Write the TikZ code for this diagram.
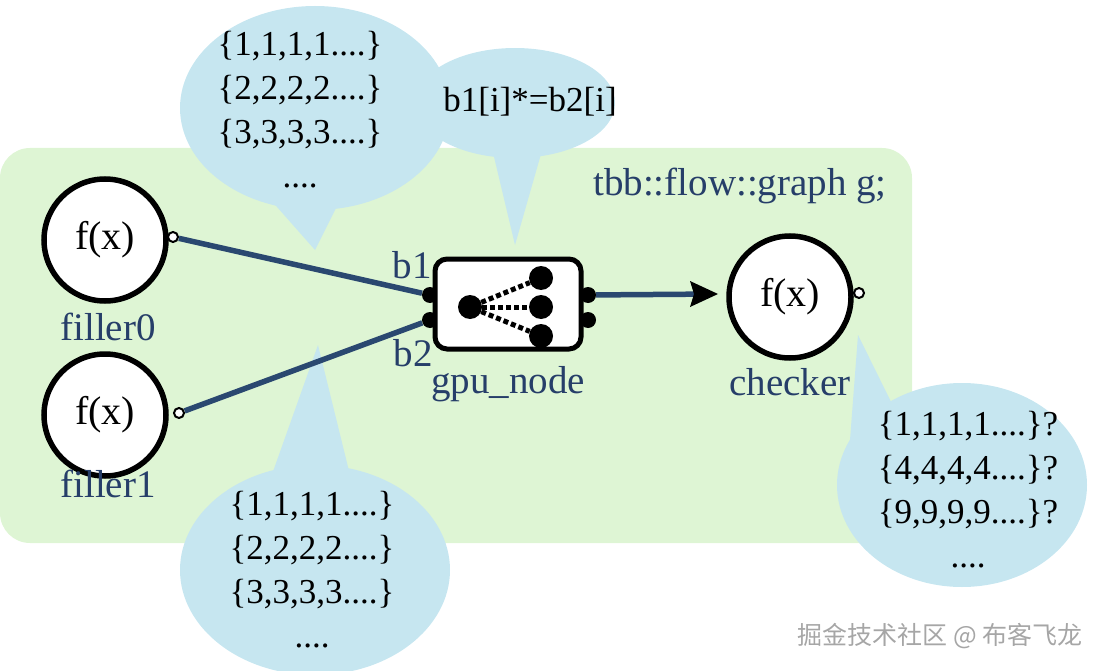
\documentclass[tikz,border=0pt]{standalone}
\usepackage{fontspec}
\setmainfont{Liberation Serif}
\newfontfamily\cjk{Noto Sans CJK SC}
\usetikzlibrary{arrows.meta}
\definecolor{bggreen}{RGB}{222,245,212}
\definecolor{callblue}{RGB}{198,230,240}
\definecolor{lnblue}{RGB}{42,72,112}
\definecolor{lblblue}{RGB}{38,62,105}
\begin{document}
\begin{tikzpicture}[x=1pt,y=-1pt,
  call/.style={fill=callblue,draw=none},
  ctext/.style={font=\fontsize{35}{44}\selectfont,align=center,text=black},
  fnode/.style={circle,draw=black,line width=5.5pt,fill=white,minimum size=122pt,inner sep=0pt,font=\fontsize{40}{44}\selectfont},
  lbl/.style={text=lblblue,font=\fontsize{39}{42}\selectfont},
  oport/.style={circle,draw=black,line width=2pt,fill=white,minimum size=10pt,inner sep=0pt},
  bport/.style={circle,fill=black,minimum size=16pt,inner sep=0pt},
  dot/.style={circle,fill=black,minimum size=24pt,inner sep=0pt},
  edge/.style={draw=lnblue,line width=5.5pt},
  dots/.style={line width=5pt,dash pattern=on 5pt off 3pt}]
\useasboundingbox (0,0) rectangle (1100,671);
\fill[bggreen,rounded corners=30pt] (0,148) rectangle (912,543);
% callouts
\fill[call] (315,108) ellipse [x radius=135,y radius=102];
\fill[call] (262,190) -- (315,250) -- (345,190) -- cycle;
\fill[call] (515,103) ellipse [x radius=100,y radius=55];
\fill[call] (490,140) -- (515,245) -- (545,140) -- cycle;
\fill[call] (315,570) ellipse [x radius=135,y radius=105];
\fill[call] (270,480) -- (318,345) -- (350,475) -- cycle;
\fill[call] (962,485) ellipse [x radius=125,y radius=102];
\fill[call] (850,440) -- (858,335) -- (900,420) -- cycle;
\node[ctext] (t1) at (300,110) {\{1,1,1,1....\}\\\{2,2,2,2....\}\\\{3,3,3,3....\}\\....};
\node[ctext] (t2) at (530,102) {b1[i]*=b2[i]};
\node[ctext] (t3) at (312,570) {\{1,1,1,1....\}\\\{2,2,2,2....\}\\\{3,3,3,3....\}\\....};
\node[ctext] (t4) at (968,490) {\{1,1,1,1....\}?\\\{4,4,4,4....\}?\\\{9,9,9,9....\}?\\....};
% nodes
\node[fnode] (f0) at (105,240) {f(x)};
\node[fnode] (f1) at (105,415) {f(x)};
\node[fnode] (ck) at (790,297) {f(x)};
\node[oport] (p0) at (173,237) {};
\node[oport] (p1) at (179,413) {};
\node[oport] (pc) at (859,293) {};
\node[bport] (gi1) at (430,295) {};
\node[bport] (gi2) at (430,320) {};
\node[bport] (go1) at (588,295) {};
\node[bport] (go2) at (588,320) {};
\node[draw=black,line width=5pt,fill=white,rounded corners=12pt,minimum width=146pt,minimum height=90pt] (gpu) at (508,304) {};
\node[dot] (d0) at (470,307) {};
\node[dot] (d1) at (541,278) {};
\node[dot] (d2) at (541,307) {};
\node[dot] (d3) at (541,336) {};
\draw[dots] (d0) -- (d1); \draw[dots] (d0) -- (d2); \draw[dots] (d0) -- (d3);
% edges
\draw[edge] (p0) -- (gi1);
\draw[edge] (p1) -- (gi2);
\coordinate (ae) at (718,294);
\draw[edge,shorten >=18pt] (go1) -- (ae);
\fill[black] (ae) -- (690,281) -- (694,294) -- (690,307) -- cycle;
% labels
\node[lbl] (lb1) at (412,265) {b1};
\node[lbl] (lb2) at (413,353) {b2};
\node[lbl] (lf0) at (108,327) {filler0};
\node[lbl] (lf1) at (108,484) {filler1};
\node[lbl] (lg) at (508,384) {gpu\_node};
\node[lbl] (lc) at (790,382) {checker};
\node[lbl] (lt) at (740,186) {tbb::flow::graph g;};
\node[text=gray!70,font=\cjk\fontsize{25}{27}\selectfont] (wm) at (940,636) {掘金技术社区 @ 布客飞龙};
\end{tikzpicture}
\end{document}
